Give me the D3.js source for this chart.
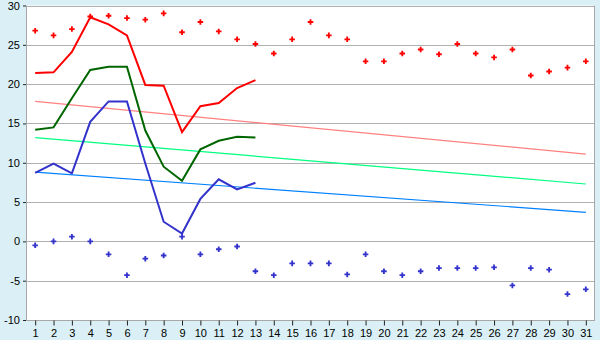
<!DOCTYPE html>
<html><head><meta charset="utf-8">
<script src="https://cdn.jsdelivr.net/npm/d3@7"></script>
<style>body{margin:0;background:#daf0f6;}svg{display:block;font-family:"DejaVu Sans",Verdana,sans-serif;}</style>
</head><body><svg id="c" width="600" height="340"></svg>
<script>
const days = d3.range(1, 32);
const maxDots = [26.8,26.2,27.0,28.6,28.7,28.4,28.2,29.0,26.6,27.9,26.7,25.7,25.1,23.9,25.7,27.9,26.2,25.7,22.9,22.9,23.9,24.4,23.8,25.1,23.9,23.4,24.4,21.1,21.6,22.1,22.9];
const minDots = [-0.5,0,0.6,0,-1.65,-4.3,-2.2,-1.8,0.6,-1.65,-1.0,-0.65,-3.8,-4.3,-2.8,-2.8,-2.8,-4.2,-1.65,-3.8,-4.3,-3.8,-3.4,-3.4,-3.4,-3.3,-5.6,-3.4,-3.6,-6.7,-6.1];
const maxLine = [21.4,21.5,24.1,28.5,27.6,26.2,19.9,19.8,13.9,17.2,17.6,19.5,20.5];
const meanLine = [14.2,14.5,18.2,21.8,22.2,22.2,14.1,9.5,7.7,11.7,12.8,13.3,13.2];
const minLine = [8.7,9.9,8.65,15.2,17.8,17.8,9.9,2.5,1.0,5.4,7.9,6.6,7.45];
const trendMax = [17.8, 11.1];
const trendMean = [13.2, 7.3];
const trendMin = [8.8, 3.7];
const yTicks = [-10,-5,0,5,10,15,20,25,30];

const svg = d3.select("#c");
const L = 26, R = 595, T = 5.5, B = 320;
const x = d3.scalePoint().domain(days).range([L, R]).padding(0.5);
const y = d3.scaleLinear().domain([-10, 30]).range([B, T]);

svg.append("rect").attr("x", L).attr("y", T).attr("width", R - L).attr("height", B - T).attr("fill", "#fff");

svg.append("g").selectAll("line").data(yTicks).join("line")
  .attr("x1", L).attr("x2", R).attr("y1", d => Math.round(y(d)) + 0.5).attr("y2", d => Math.round(y(d)) + 0.5)
  .attr("stroke", "#b0b0b0").attr("stroke-width", 1);
svg.append("line").attr("x1", L + 0.5).attr("x2", L + 0.5).attr("y1", T).attr("y2", B + 0.5).attr("stroke", "#a8a8a8");
svg.append("line").attr("x1", R - 0.5).attr("x2", R - 0.5).attr("y1", T).attr("y2", B + 0.5).attr("stroke", "#a8a8a8");

const ya = d3.axisLeft(y).tickValues(yTicks).tickSize(3).tickPadding(3);
const gy = svg.append("g").attr("transform", `translate(${L},0)`).call(ya);
gy.select(".domain").remove();
gy.selectAll(".tick line").attr("stroke", "#222");
gy.selectAll(".tick text").attr("font-size", 11).attr("fill", "#000").text(d => d < 0 ? "-" + Math.abs(d) : d);

const xa = d3.axisBottom(x).tickSize(5).tickPadding(4);
const gx = svg.append("g").attr("transform", `translate(0,${Math.round(y(-10)) + 0.5})`).call(xa);
gx.select(".domain").attr("stroke", "#a8a8a8").attr("d", `M${L},0H${R}`);
gx.selectAll(".tick line").attr("stroke", "#222");
gx.selectAll(".tick text").attr("font-size", 11).attr("fill", "#000");

function trend(vals, color) {
  svg.append("line").attr("x1", x(1)).attr("x2", x(31)).attr("y1", y(vals[0])).attr("y2", y(vals[1]))
    .attr("stroke", color).attr("stroke-width", 1.2);
}
trend(trendMax, "#ff8080");
trend(trendMean, "#00ff80");
trend(trendMin, "#0080ff");

const line = d3.line().x((d, i) => x(days[i])).y(d => y(d));
function dl(vals, color) {
  svg.append("path").attr("d", line(vals)).attr("fill", "none").attr("stroke", color).attr("stroke-width", 2);
}
dl(maxLine, "#ff0000");
dl(meanLine, "#006600");
dl(minLine, "#3333cc");

const sym = d3.symbol().type(d3.symbolCross).size(17);
function dots(vals, color) {
  svg.append("g").selectAll("path").data(vals).join("path")
    .attr("d", sym).attr("transform", (d, i) => `translate(${x(days[i])},${y(d)})`).attr("fill", color);
}
dots(maxDots, "#ff0000");
dots(minDots, "#3333cc");
</script></body></html>
